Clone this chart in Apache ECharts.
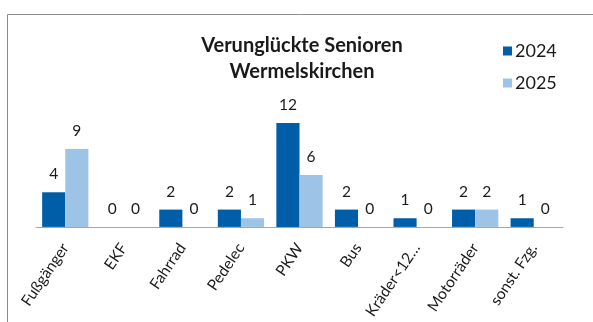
<!DOCTYPE html>
<html>
<head>
<meta charset="utf-8">
<script src="https://cdn.jsdelivr.net/npm/echarts@6/dist/echarts.min.js"></script>
<style>
  html, body { margin: 0; padding: 0; background: #fff; }
  #chart { width: 593px; height: 322px; }
</style>
</head>
<body>
<div id="chart"></div>
<script>
// Verunglückte Senioren nach Verkehrsbeteiligung
const categories = ['Fußgänger', 'EKF', 'Fahrrad', 'Pedelec', 'PKW', 'Bus', 'Kräder<12…', 'Motorräder', 'sonst. Fzg.'];
const values2024 = [4, 0, 2, 2, 12, 2, 1, 2, 1];
const values2025 = [9, 0, 0, 1, 6, 0, 0, 2, 0];
const seriesNames = ['2024', '2025'];

const FONT = 'Lato, "Open Sans", sans-serif';
const chart = echarts.init(document.getElementById('chart'), null, { renderer: 'canvas' });

const labelStyle = {
  show: true,
  position: 'top',
  distance: 10,
  fontFamily: FONT,
  fontSize: 15.5,
  color: '#1a1a1a'
};

chart.setOption({
  animation: false,
  backgroundColor: '#ffffff',
  graphic: [{
    type: 'rect',
    shape: { x: 7.5, y: 14.5, width: 600, height: 400 },
    style: { fill: 'none', stroke: '#8c8c8c', lineWidth: 1 },
    silent: true
  }],
  title: {
    text: 'Verunglückte Senioren\nWermelskirchen',
    left: 297,
    top: 28,
    textAlign: 'center',
    textStyle: {
      fontFamily: FONT,
      fontSize: 20,
      fontWeight: 'bold',
      color: '#1a1a1a',
      lineHeight: 26
    }
  },
  legend: {
    orient: 'vertical',
    left: 498,
    top: 37,
    itemWidth: 9,
    itemHeight: 9,
    itemGap: 14,
    icon: 'rect',
    data: seriesNames,
    textStyle: { fontFamily: FONT, fontSize: 18, color: '#1a1a1a', padding: [0, 0, 0, -2] }
  },
  grid: { left: 36, right: 30, top: 123, bottom: 94, containLabel: false },
  xAxis: {
    type: 'category',
    data: categories,
    axisLine: { lineStyle: { color: '#a6a6a6', width: 1 } },
    axisTick: { show: false },
    axisLabel: {
      rotate: 56,
      margin: 18,
      interval: 0,
      fontFamily: FONT,
      fontSize: 15.5,
      color: '#1a1a1a'
    }
  },
  yAxis: {
    type: 'value',
    min: 0,
    max: 12,
    show: false,
    splitLine: { show: false }
  },
  series: [
    {
      name: seriesNames[0],
      type: 'bar',
      data: values2024,
      itemStyle: { color: '#005EA8' },
      barGap: '0%',
      barCategoryGap: '21%',
      label: labelStyle
    },
    {
      name: seriesNames[1],
      type: 'bar',
      data: values2025,
      itemStyle: { color: '#9DC3E6' },
      barGap: '0%',
      barCategoryGap: '21%',
      label: labelStyle
    }
  ]
});
</script>
</body>
</html>
